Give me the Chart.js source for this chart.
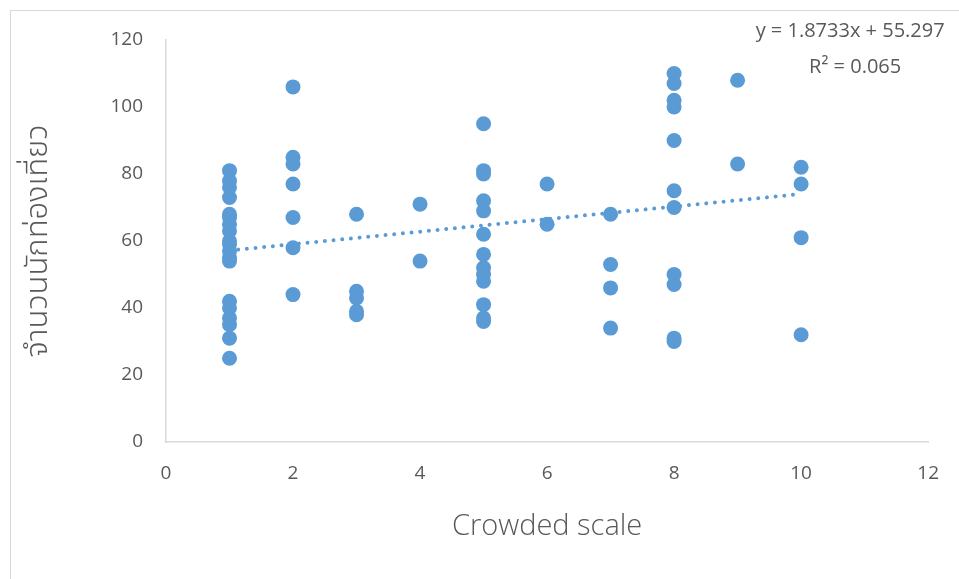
<!DOCTYPE html>
<html>
<head>
<meta charset="utf-8">
<script src="https://cdn.jsdelivr.net/npm/chart.js@4"></script>
<style>
  html, body { margin: 0; padding: 0; background: #fff; }
  #wrap { position: relative; width: 959px; height: 579px; }
</style>
</head>
<body>
<div id="wrap"><canvas id="scatterChart"></canvas></div>
<script>
// crowded scale (x) and number of tourists (y), one pair per respondent
const crowdedScale = [
  1, 1, 1, 1, 1, 1, 1, 1, 1, 1, 1, 1, 1, 1, 1, 1, 1, 1, 1,
  2, 2, 2, 2, 2, 2, 2,
  3, 3, 3, 3, 3,
  4, 4,
  5, 5, 5, 5, 5, 5, 5, 5, 5, 5, 5, 5, 5,
  6, 6,
  7, 7, 7, 7,
  8, 8, 8, 8, 8, 8, 8, 8, 8, 8, 8,
  9, 9,
  10, 10, 10, 10
];
const tourists = [
  81, 78, 76, 73, 68, 67, 65, 63, 60, 59, 57, 55, 54, 42, 40, 37, 35, 31, 25,
  106, 85, 83, 77, 67, 58, 44,
  68, 45, 43, 39, 38,
  71, 54,
  95, 81, 80, 72, 69, 62, 56, 52, 50, 48, 41, 37, 36,
  77, 65,
  68, 53, 46, 34,
  110, 107, 102, 100, 90, 75, 70, 50, 47, 31, 30,
  108, 83,
  82, 77, 61, 32
];

// trendline as reported on the chart
const slope = 1.8733;
const intercept = 55.297;
const rSquared = 0.065;

const xTicks = [0, 2, 4, 6, 8, 10, 12];
const yTicks = [0, 20, 40, 60, 80, 100, 120];

const points = crowdedScale.map((x, i) => ({ x: x, y: tourists[i] }));
const xMin = Math.min(...crowdedScale);
const xMax = Math.max(...crowdedScale);
const trend = [
  { x: xMin, y: slope * xMin + intercept },
  { x: xMax, y: slope * xMax + intercept }
];

const textColor = '#595959';
const axisColor = '#d9d9d9';
const blue = '#5B9BD5';

const framePlugin = {
  id: 'frame',
  beforeDraw(chart) {
    const ctx = chart.ctx;
    ctx.save();
    ctx.strokeStyle = axisColor;
    ctx.lineWidth = 1;
    ctx.strokeRect(10.5, 10.5, chart.width + 20, chart.height + 20);
    ctx.restore();
  }
};

const equationPlugin = {
  id: 'equation',
  afterDraw(chart) {
    const ctx = chart.ctx;
    const cx = chart.chartArea.right - 78;
    ctx.save();
    ctx.fillStyle = textColor;
    ctx.font = '20px "Open Sans", "Noto Sans", sans-serif';
    ctx.textAlign = 'center';
    ctx.textBaseline = 'middle';
    ctx.fillText('y = ' + slope + 'x + ' + intercept, cx, 31);
    ctx.fillText('R\u00B2 = ' + rSquared, cx + 5, 67);
    ctx.restore();
  }
};

const ctx = document.getElementById('scatterChart').getContext('2d');

window.scatterChart = new Chart(ctx, {
  type: 'scatter',
  data: {
    datasets: [
      {
        label: 'tourists',
        data: points,
        backgroundColor: blue,
        borderColor: blue,
        borderWidth: 0,
        pointRadius: 7.5,
        pointHoverRadius: 7.5,
        order: 0
      },
      {
        type: 'line',
        label: 'trend',
        data: trend,
        borderColor: blue,
        borderWidth: 4,
        borderDash: [0.01, 8.7],
        borderCapStyle: 'round',
        pointRadius: 0,
        fill: false,
        order: 1
      }
    ]
  },
  options: {
    responsive: true,
    maintainAspectRatio: false,
    animation: false,
    events: [],
    layout: { padding: { top: 40, right: 29, left: 0, bottom: 0 } },
    plugins: {
      legend: { display: false },
      tooltip: { enabled: false }
    },
    scales: {
      x: {
        type: 'linear',
        min: 0,
        max: 12,
        afterBuildTicks: (scale) => { scale.ticks = xTicks.map(v => ({ value: v })); },
        afterFit: (scale) => { scale.height = 137; },
        grid: { display: false, drawTicks: false },
        border: { display: true, color: axisColor, width: 1.5 },
        ticks: {
          color: textColor,
          padding: 20,
          font: { family: '"Open Sans", "Noto Sans", sans-serif', size: 19 }
        },
        title: {
          display: true,
          text: 'Crowded scale',
          color: textColor,
          padding: { top: 0, bottom: 35 },
          font: { family: '"Open Sans", "Noto Sans", sans-serif', size: 29, weight: 300 }
        }
      },
      y: {
        type: 'linear',
        min: 0,
        max: 120,
        afterBuildTicks: (scale) => { scale.ticks = yTicks.map(v => ({ value: v })); },
        afterFit: (scale) => { scale.width = 166; },
        grid: { display: false, drawTicks: false },
        border: { display: true, color: axisColor, width: 1.5 },
        ticks: {
          color: textColor,
          padding: 23,
          font: { family: '"Open Sans", "Noto Sans", sans-serif', size: 19 }
        },
        title: {
          display: true,
          text: 'จำนวนนักท่องเที่ยว',
          color: textColor,
          padding: { top: 22, bottom: 0 },
          font: { family: '"Noto Sans Thai", "Noto Sans", "DejaVu Sans", sans-serif', size: 31, weight: 300 }
        }
      }
    }
  },
  plugins: [framePlugin, equationPlugin]
});
</script>
</body>
</html>
